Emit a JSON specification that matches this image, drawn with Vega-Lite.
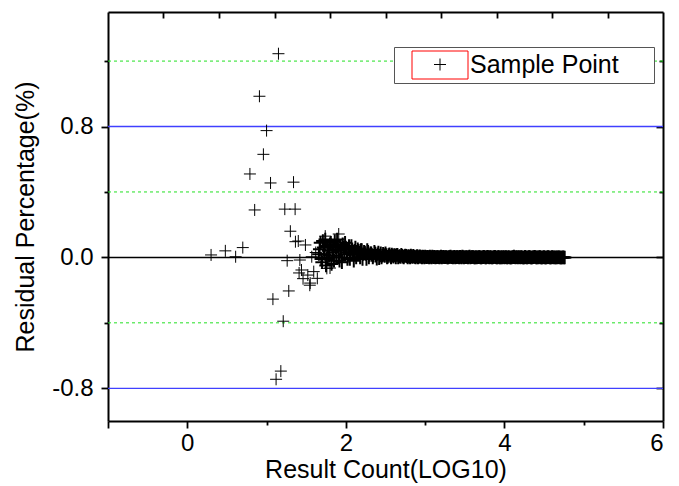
{
 "$schema": "https://vega.github.io/schema/vega-lite/v6.json",
 "width": 555,
 "height": 409,
 "autosize": {"type": "none"},
 "padding": {"left": 108, "top": 12, "right": 16, "bottom": 65},
 "background": "white",
 "config": {
  "view": {"stroke": null},
  "font": "Liberation Sans",
  "axis": {"grid": false, "ticks": true, "domainColor": "black", "domainWidth": 2, "tickColor": "black", "tickWidth": 1.8, "labelFont": "Liberation Sans", "labelFontSize": 24, "labelColor": "black", "titleFont": "Liberation Sans", "titleFontSize": 25, "titleFontWeight": "normal", "titleColor": "black"}
 },
 "datasets": {
  "outliers": [
   {"x":0.30,"y":0.015},{"x":0.48,"y":0.04},{"x":0.61,"y":0.004},{"x":0.70,"y":0.06},{"x":0.79,"y":0.51},{"x":0.85,"y":0.29},{"x":0.91,"y":0.985},{"x":0.96,"y":0.63},{"x":1.00,"y":0.775},{"x":1.05,"y":0.455},{"x":1.08,"y":-0.255},{"x":1.12,"y":-0.745},{"x":1.15,"y":1.245},{"x":1.18,"y":-0.695},{"x":1.21,"y":-0.39},{"x":1.23,"y":0.295},{"x":1.26,"y":-0.02},{"x":1.28,"y":-0.205},{"x":1.30,"y":0.16},{"x":1.34,"y":0.46},{"x":1.36,"y":0.295},{"x":1.364,"y":0.096},{"x":1.40,"y":0.10},{"x":1.41,"y":-0.095},{"x":1.42,"y":-0.016},{"x":1.44,"y":-0.077},{"x":1.46,"y":-0.13},{"x":1.49,"y":0.076},{"x":1.52,"y":-0.108},{"x":1.545,"y":-0.17},{"x":1.55,"y":-0.157},{"x":1.57,"y":0.004},{"x":1.595,"y":-0.087},{"x":1.64,"y":-0.128},{"x":1.62,"y":0.03},{"x":1.74,"y":0.13},{"x":1.76,"y":-0.067},{"x":1.80,"y":-0.065},{"x":1.91,"y":0.143}
  ],
  "band": [
   {"x":1.66,"y":0.02},{"x":1.68,"y":0.09},{"x":1.70,"y":-0.03},{"x":1.72,"y":0.06},{"x":1.74,"y":0.11},{"x":1.76,"y":-0.01},{"x":1.78,"y":0.04},{"x":1.80,"y":0.08},{"x":1.82,"y":-0.04},{"x":1.84,"y":0.05},{"x":1.86,"y":0.10},{"x":1.88,"y":0.01},{"x":1.90,"y":0.07},{"x":1.92,"y":-0.02},{"x":1.94,"y":0.05},{"x":1.96,"y":0.08},{"x":1.98,"y":0.02},
   {"x":2.00,"y":0.06},{"x":2.02,"y":-0.01},{"x":2.04,"y":0.07},{"x":2.06,"y":0.03},{"x":2.08,"y":0.05},{"x":2.10,"y":-0.02},{"x":2.12,"y":0.06},{"x":2.14,"y":0.02},{"x":2.16,"y":0.04},{"x":2.18,"y":0.0},{"x":2.20,"y":0.045},{"x":2.22,"y":0.02},{"x":2.24,"y":0.03},{"x":2.26,"y":-0.01},{"x":2.28,"y":0.035},{"x":2.30,"y":0.015},{"x":2.32,"y":0.025},{"x":2.34,"y":0.0},{"x":2.36,"y":0.035},{"x":2.38,"y":0.01},{"x":2.40,"y":0.02},{"x":2.42,"y":-0.005},{"x":2.44,"y":0.025},{"x":2.46,"y":0.01},{"x":2.48,"y":0.015},{"x":2.50,"y":0.025},{"x":2.52,"y":0.0},{"x":2.54,"y":0.015},{"x":2.56,"y":0.008},{"x":2.58,"y":0.018},{"x":2.60,"y":0.004},{"x":2.62,"y":0.012},{"x":2.64,"y":0.015},{"x":2.66,"y":0.0},{"x":2.68,"y":0.008},{"x":2.70,"y":0.016},{"x":2.72,"y":0.004},{"x":2.74,"y":0.008},{"x":2.76,"y":0.01},{"x":2.78,"y":0.0},{"x":2.80,"y":0.006},{"x":2.82,"y":0.012},{"x":2.84,"y":0.003},{"x":2.86,"y":0.006},{"x":2.88,"y":0.0},{"x":2.90,"y":0.008},{"x":2.92,"y":0.003},{"x":2.94,"y":0.005},{"x":2.96,"y":0.0},{"x":2.98,"y":0.004},
   {"x":3.00,"y":0.005},{"x":3.02,"y":0.001},{"x":3.04,"y":0.003},{"x":3.06,"y":0.006},{"x":3.08,"y":0.0},{"x":3.10,"y":0.002},{"x":3.12,"y":0.004},{"x":3.14,"y":0.001},{"x":3.16,"y":0.002},{"x":3.18,"y":0.0},{"x":3.20,"y":0.005},{"x":3.22,"y":0.002},{"x":3.24,"y":0.001},{"x":3.26,"y":0.003},{"x":3.28,"y":0.0},{"x":3.30,"y":0.002},{"x":3.32,"y":0.006},{"x":3.34,"y":0.001},{"x":3.36,"y":0.002},{"x":3.38,"y":0.0},{"x":3.40,"y":0.002},{"x":3.42,"y":0.001},{"x":3.44,"y":0.004},{"x":3.46,"y":0.0},{"x":3.48,"y":0.002},{"x":3.50,"y":0.001},{"x":3.52,"y":0.002},{"x":3.54,"y":0.0},{"x":3.56,"y":0.005},{"x":3.58,"y":0.001},{"x":3.60,"y":0.002},{"x":3.62,"y":0.0},{"x":3.64,"y":0.002},{"x":3.66,"y":0.001},{"x":3.68,"y":0.003},{"x":3.70,"y":0.0},{"x":3.72,"y":0.001},{"x":3.74,"y":0.004},{"x":3.76,"y":0.0},{"x":3.78,"y":0.002},{"x":3.80,"y":0.001},{"x":3.82,"y":0.002},{"x":3.84,"y":0.0},{"x":3.86,"y":0.001},{"x":3.88,"y":0.004},{"x":3.90,"y":0.0},{"x":3.92,"y":0.002},{"x":3.94,"y":0.0},{"x":3.96,"y":0.002},{"x":3.98,"y":0.001},
   {"x":4.00,"y":0.0},{"x":4.02,"y":0.003},{"x":4.04,"y":0.0},{"x":4.06,"y":0.001},{"x":4.08,"y":0.0},{"x":4.10,"y":0.002},{"x":4.12,"y":0.005},{"x":4.14,"y":0.0},{"x":4.16,"y":0.001},{"x":4.18,"y":0.002},{"x":4.20,"y":0.0},{"x":4.22,"y":0.001},{"x":4.24,"y":0.0},{"x":4.26,"y":0.004},{"x":4.28,"y":0.0},{"x":4.30,"y":0.001},{"x":4.32,"y":0.002},{"x":4.34,"y":0.0},{"x":4.36,"y":0.001},{"x":4.38,"y":0.004},{"x":4.40,"y":0.0},{"x":4.42,"y":0.001},{"x":4.44,"y":0.002},{"x":4.46,"y":0.0},{"x":4.48,"y":0.0},{"x":4.50,"y":0.003},{"x":4.52,"y":0.0},{"x":4.54,"y":0.001},{"x":4.56,"y":0.001},{"x":4.58,"y":0.0},{"x":4.60,"y":0.002},{"x":4.62,"y":0.0},{"x":4.64,"y":0.0},{"x":4.66,"y":0.001},{"x":4.68,"y":0.001},{"x":4.70,"y":0.0},{"x":4.72,"y":0.0},{"x":4.74,"y":0.001},{"x":4.76,"y":0.0},
   {"x":1.67,"y":0.05},{"x":1.69,"y":-0.01},{"x":1.71,"y":0.10},{"x":1.73,"y":0.02},{"x":1.75,"y":-0.05},{"x":1.77,"y":0.07},{"x":1.79,"y":0.01},{"x":1.81,"y":0.09},{"x":1.83,"y":0.03},{"x":1.85,"y":-0.02},{"x":1.87,"y":0.06},{"x":1.89,"y":0.11},{"x":1.91,"y":0.0},{"x":1.93,"y":0.04},{"x":1.95,"y":-0.03},{"x":1.97,"y":0.06},{"x":1.99,"y":0.09},
   {"x":2.01,"y":0.03},{"x":2.03,"y":0.05},{"x":2.05,"y":-0.01},{"x":2.07,"y":0.07},{"x":2.09,"y":0.02},{"x":2.11,"y":0.04},{"x":2.13,"y":0.0},{"x":2.15,"y":0.05},{"x":2.17,"y":0.03},{"x":2.19,"y":0.045},{"x":2.21,"y":-0.01},{"x":2.23,"y":0.035},{"x":2.25,"y":0.02},{"x":2.27,"y":0.045},{"x":2.29,"y":0.0},{"x":2.31,"y":0.025},{"x":2.33,"y":0.015},{"x":2.35,"y":0.01},{"x":2.37,"y":0.025},{"x":2.39,"y":-0.008},{"x":2.41,"y":0.03},{"x":2.43,"y":0.012},{"x":2.45,"y":0.0},{"x":2.47,"y":0.022},{"x":2.49,"y":0.008},{"x":2.51,"y":0.015},{"x":2.53,"y":0.004},{"x":2.55,"y":0.02},{"x":2.57,"y":0.0},{"x":2.59,"y":0.01},{"x":2.61,"y":0.014},{"x":2.63,"y":0.0},{"x":2.65,"y":0.016},{"x":2.67,"y":0.006},{"x":2.69,"y":0.003},{"x":2.71,"y":0.01},{"x":2.73,"y":0.0},{"x":2.75,"y":0.012},{"x":2.77,"y":0.005},{"x":2.79,"y":0.008},{"x":2.81,"y":0.0},{"x":2.83,"y":0.006},{"x":2.85,"y":0.01},{"x":2.87,"y":0.002},{"x":2.89,"y":0.005},{"x":2.91,"y":0.0},{"x":2.93,"y":0.007},{"x":2.95,"y":0.002},{"x":2.97,"y":0.005},{"x":2.99,"y":0.0},
   {"x":3.01,"y":0.003},{"x":3.03,"y":0.004},{"x":3.05,"y":0.0},{"x":3.07,"y":0.002},{"x":3.09,"y":0.005},{"x":3.11,"y":0.001},{"x":3.13,"y":0.0},{"x":3.15,"y":0.003},{"x":3.17,"y":0.001},{"x":3.19,"y":0.002},{"x":3.21,"y":0.0},{"x":3.23,"y":0.004},{"x":3.25,"y":0.001},{"x":3.27,"y":0.002},{"x":3.29,"y":0.0},{"x":3.31,"y":0.003},{"x":3.33,"y":0.001},{"x":3.35,"y":0.0},{"x":3.37,"y":0.004},{"x":3.39,"y":0.001},{"x":3.41,"y":0.002},{"x":3.43,"y":0.0},{"x":3.45,"y":0.002},{"x":3.47,"y":0.005},{"x":3.49,"y":0.0},{"x":3.51,"y":0.001},{"x":3.53,"y":0.001},{"x":3.55,"y":0.002},{"x":3.57,"y":0.0},{"x":3.59,"y":0.002},{"x":3.61,"y":0.003},{"x":3.63,"y":0.0},{"x":3.65,"y":0.0},{"x":3.67,"y":0.001},{"x":3.69,"y":0.002},{"x":3.71,"y":0.0},{"x":3.73,"y":0.001},{"x":3.75,"y":0.002},{"x":3.77,"y":0.0},{"x":3.79,"y":0.004},{"x":3.81,"y":0.0},{"x":3.83,"y":0.001},{"x":3.85,"y":0.0},{"x":3.87,"y":0.002},{"x":3.89,"y":0.001},{"x":3.91,"y":0.0},{"x":3.93,"y":0.002},{"x":3.95,"y":0.0},{"x":3.97,"y":0.0},{"x":3.99,"y":0.002},
   {"x":4.01,"y":0.001},{"x":4.03,"y":0.0},{"x":4.05,"y":0.002},{"x":4.07,"y":0.0},{"x":4.09,"y":0.0},{"x":4.11,"y":0.001},{"x":4.13,"y":0.001},{"x":4.15,"y":0.003},{"x":4.17,"y":0.0},{"x":4.19,"y":0.001},{"x":4.21,"y":0.002},{"x":4.23,"y":0.0},{"x":4.25,"y":0.0},{"x":4.27,"y":0.001},{"x":4.29,"y":0.0},{"x":4.31,"y":0.003},{"x":4.33,"y":0.0},{"x":4.35,"y":0.0},{"x":4.37,"y":0.001},{"x":4.39,"y":0.002},{"x":4.41,"y":0.0},{"x":4.43,"y":0.0},{"x":4.45,"y":0.002},{"x":4.47,"y":0.0},{"x":4.49,"y":0.001},{"x":4.51,"y":0.0},{"x":4.53,"y":0.0},{"x":4.55,"y":0.002},{"x":4.57,"y":0.0},{"x":4.59,"y":0.0},{"x":4.61,"y":0.001},{"x":4.63,"y":0.001},{"x":4.65,"y":0.0},{"x":4.67,"y":0.0},{"x":4.69,"y":0.001},{"x":4.71,"y":0.0},{"x":4.73,"y":0.0},{"x":4.75,"y":0.0}
  ]
 },
 "resolve": {"axis": {"x": "independent", "y": "independent"}},
 "layer": [
  {
   "data": {"values": [{"level": 1.2}, {"level": 0.4}, {"level": -0.4}]},
   "mark": {"type": "rule", "color": "#22e022", "strokeWidth": 1, "strokeDash": [3, 3]},
   "encoding": {
    "y": {"field": "level", "type": "quantitative", "scale": {"domain": [-1, 1.5], "nice": false, "zero": false},
          "axis": {"orient": "left", "offset": -555, "values": [-0.4, 0.4, 1.2], "labels": false, "domain": false, "title": null, "tickSize": 4}}
   }
  },
  {
   "data": {"values": [{"level": 0.8}, {"level": -0.8}]},
   "mark": {"type": "rule", "color": "#4040ff", "strokeWidth": 1.3},
   "encoding": {
    "y": {"field": "level", "type": "quantitative", "scale": {"domain": [-1, 1.5], "nice": false, "zero": false}, "axis": null}
   }
  },
  {
   "data": {"values": [{"level": 0}]},
   "mark": {"type": "rule", "color": "black", "strokeWidth": 1.5},
   "encoding": {
    "y": {"field": "level", "type": "quantitative", "scale": {"domain": [-1, 1.5], "nice": false, "zero": false},
          "axis": {"orient": "left", "offset": -555, "values": [-0.8, 0, 0.8], "labels": false, "title": null, "tickSize": 7}},
    "x": {"datum": -1, "type": "quantitative", "scale": {"domain": [-1, 6], "nice": false, "zero": false},
          "axis": {"orient": "bottom", "offset": -409, "values": [-0.3, 0.4, 1.1, 1.8, 2.5, 3.2, 3.9, 4.6, 5.3], "labels": false, "title": null, "tickSize": 6}},
    "x2": {"datum": 6},
    "strokeDash": {"datum": " ", "type": "nominal", "scale": {"range": [[1, 0]]},
                   "legend": {"orient": "none", "legendX": 317.5, "legendY": 38.5, "title": null, "padding": 0,
                              "symbolType": "M-2,-1H2V1H-2Z", "symbolSize": 784, "symbolStrokeColor": "#ff0000",
                              "symbolFillColor": "transparent", "symbolStrokeWidth": 1, "labelFontSize": 1, "labelOffset": 0, "zindex": 3}}
   }
  },
  {
   "data": {"name": "band"},
   "mark": {"type": "point", "shape": "M-1,0H1M0,-1V1", "size": 182, "filled": false, "strokeWidth": 2, "opacity": 1},
   "encoding": {
    "x": {"field": "x", "type": "quantitative", "scale": {"domain": [-1, 6], "nice": false, "zero": false},
          "axis": {"orient": "bottom", "values": [1, 3, 5], "labels": false, "domain": false, "title": null, "tickSize": 4}},
    "y": {"field": "y", "type": "quantitative", "scale": {"domain": [-1, 1.5], "nice": false, "zero": false},
          "axis": {"orient": "left", "values": [-0.4, 0.4, 1.2], "labels": false, "domain": false, "title": null, "tickSize": 4}},
    "color": {"datum": "Sample Point", "type": "nominal", "scale": {"range": ["black"]}}
   }
  },
  {
   "data": {"name": "outliers"},
   "mark": {"type": "point", "shape": "M-1,0H1M0,-1V1", "size": 144, "filled": false, "strokeWidth": 1, "opacity": 1},
   "encoding": {
    "x": {"field": "x", "type": "quantitative", "scale": {"domain": [-1, 6], "nice": false, "zero": false},
          "axis": {"orient": "bottom", "values": [-1, 0, 2, 4, 6], "format": "d",
                   "labelExpr": "datum.value < 0 ? '' : datum.label", "labelPadding": 3, "titlePadding": 2,
                   "title": "Result Count(LOG10)", "tickSize": 7}},
    "y": {"field": "y", "type": "quantitative", "scale": {"domain": [-1, 1.5], "nice": false, "zero": false},
          "axis": {"orient": "left", "values": [-0.8, 0, 0.8], "format": ".1f",
                   "labelExpr": "replace(datum.label, '−', '-')", "labelPadding": 8, "titlePadding": 13,
                   "title": "Residual Percentage(%)", "tickSize": 7}},
    "color": {"datum": "Sample Point", "type": "nominal", "scale": {"range": ["black"]},
              "legend": {"orient": "none", "legendX": 286, "legendY": 35, "title": " ", "titleOrient": "right", "titlePadding": 30, "titleFontSize": 1,
                         "strokeColor": "#555", "fillColor": "white",
                         "padding": 5, "symbolType": "M-1,0H1M0,-1V1", "symbolSize": 144, "symbolStrokeWidth": 1,
                         "symbolOffset": 28.5, "labelOffset": 17.5, "labelFontSize": 25, "labelFont": "Liberation Sans", "labelColor": "black",
                         "labelLimit": 400, "zindex": 1}}
   }
  }
 ]
}
